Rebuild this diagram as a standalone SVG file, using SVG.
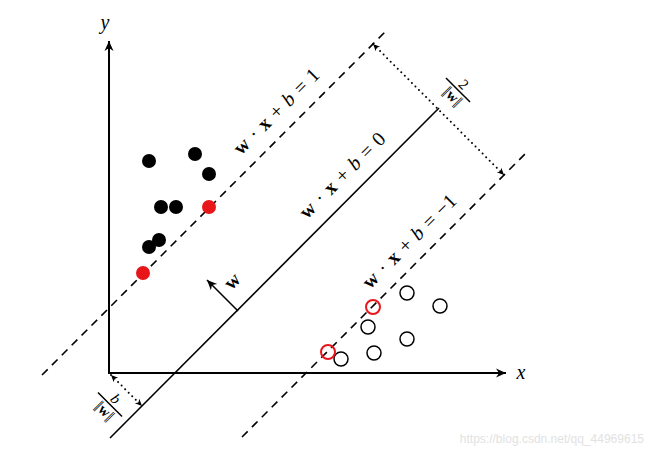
<svg xmlns="http://www.w3.org/2000/svg" width="650" height="452" viewBox="0 0 650 452">
<style>
.ax{stroke:#000;stroke-width:2;fill:none}
.sol{stroke:#000;stroke-width:1.6;fill:none}
.dash{stroke:#000;stroke-width:1.6;fill:none;stroke-dasharray:8 6}
.dot{stroke:#000;stroke-width:2;fill:none;stroke-dasharray:0 5;stroke-linecap:round}
.lbl{font-family:"Liberation Serif","DejaVu Serif",serif;font-size:20px;fill:#000;word-spacing:1.5px}
.frac{font-family:"Liberation Serif","DejaVu Serif",serif;font-size:15px;fill:#000}
.bar{letter-spacing:-1.5px;font-weight:normal}
.pos{fill:#000}
.posr{fill:#e8151b}
.neg{fill:none;stroke:#000;stroke-width:1.5}
.negr{fill:none;stroke:#e8151b;stroke-width:2}
</style>
<defs>
<marker id="ah" markerUnits="userSpaceOnUse" markerWidth="14" markerHeight="12" viewBox="-11 -6 12 12" refX="0" refY="0" orient="auto">
<path d="M0,0 L-10,-4.5 L-7,0 L-10,4.5 Z" fill="#000"/>
</marker>
<marker id="sh" markerUnits="userSpaceOnUse" markerWidth="10" markerHeight="10" viewBox="-8 -5 9 10" refX="0" refY="0" orient="auto">
<path d="M0,0 L-7,-3.2 L-5,0 L-7,3.2 Z" fill="#000"/>
</marker>
<marker id="shs" markerUnits="userSpaceOnUse" markerWidth="10" markerHeight="10" viewBox="-8 -5 9 10" refX="0" refY="0" orient="auto-start-reverse">
<path d="M0,0 L-7,-3.2 L-5,0 L-7,3.2 Z" fill="#000"/>
</marker>
</defs>

<g id="axes">
<line class="ax" x1="109" y1="373" x2="109" y2="41" marker-end="url(#ah)"/>
<line class="ax" x1="108" y1="373" x2="506" y2="373" marker-end="url(#ah)"/>
<text class="lbl" x="105" y="29" text-anchor="middle" font-style="italic" font-size="20">y</text>
<text class="lbl" x="521" y="379" text-anchor="middle" font-style="italic" font-size="20">x</text>
</g>

<g id="connectors">
<line id="hyperplane" class="sol" x1="110" y1="438" x2="439" y2="108"/>
<line id="margin-pos" class="dash" x1="42" y1="375" x2="385" y2="32"/>
<line id="margin-neg" class="dash" x1="242" y1="437" x2="528" y2="151"/>
<line id="w-vector" class="sol" x1="238" y1="311" x2="207" y2="280" marker-end="url(#ah)"/>
<line id="margin-width" class="dot" x1="373" y1="44" x2="504" y2="175" marker-start="url(#shs)" marker-end="url(#sh)"/>
<line id="offset" class="dot" x1="111" y1="375" x2="142" y2="406" marker-start="url(#shs)" marker-end="url(#sh)"/>
</g>

<g id="labels">
<text class="lbl" transform="translate(276,111) rotate(-45)" y="7" text-anchor="middle"><tspan font-weight="bold">w</tspan> · <tspan font-weight="bold">x</tspan> + <tspan font-style="italic">b</tspan> = 1</text>
<text class="lbl" transform="translate(342,175) rotate(-45)" y="7" text-anchor="middle"><tspan font-weight="bold">w</tspan> · <tspan font-weight="bold">x</tspan> + <tspan font-style="italic">b</tspan> = 0</text>
<text class="lbl" transform="translate(409,241) rotate(-45)" y="7" text-anchor="middle"><tspan font-weight="bold">w</tspan> · <tspan font-weight="bold">x</tspan> + <tspan font-style="italic">b</tspan> = −1</text>
<text class="lbl" transform="translate(233,282) rotate(-45)" y="5" text-anchor="middle" font-weight="bold" font-size="18">w</text>
<g id="frac-margin" transform="translate(458,90) rotate(45)">
<line x1="-17" y1="0" x2="17" y2="0" stroke="#000" stroke-width="1.5"/>
<text class="frac" x="0" y="-3" text-anchor="middle">2</text>
<text class="frac" x="0" y="13" text-anchor="middle"><tspan class="bar">||</tspan><tspan font-weight="bold" dx="1.5">w</tspan><tspan class="bar" dx="0.5">||</tspan></text>
</g>
<g id="frac-offset" transform="translate(110,404.5) rotate(45)">
<line x1="-17" y1="0" x2="17" y2="0" stroke="#000" stroke-width="1.5"/>
<text class="frac" x="0" y="-3" text-anchor="middle" font-style="italic">b</text>
<text class="frac" x="0" y="13" text-anchor="middle"><tspan class="bar">||</tspan><tspan font-weight="bold" dx="1.5">w</tspan><tspan class="bar" dx="0.5">||</tspan></text>
</g>
</g>

<g id="positive">
<circle class="pos" cx="149" cy="161" r="7"/>
<circle class="pos" cx="195" cy="154" r="7"/>
<circle class="pos" cx="209" cy="174" r="7"/>
<circle class="pos" cx="161" cy="207" r="7"/>
<circle class="pos" cx="176" cy="207" r="7"/>
<circle class="pos" cx="159" cy="240" r="7"/>
<circle class="pos" cx="149" cy="247" r="7"/>
<circle class="posr" cx="209" cy="207" r="7"/>
<circle class="posr" cx="143" cy="273" r="7"/>
</g>

<g id="negative">
<circle class="neg" cx="407" cy="293" r="7"/>
<circle class="neg" cx="440" cy="306" r="7"/>
<circle class="neg" cx="368" cy="327" r="7"/>
<circle class="neg" cx="407" cy="339" r="7"/>
<circle class="neg" cx="374" cy="353" r="7"/>
<circle class="neg" cx="341" cy="359" r="7"/>
<circle class="negr" cx="373" cy="307" r="7"/>
<circle class="negr" cx="328" cy="352" r="7"/>
</g>

<text id="watermark" x="644" y="443" text-anchor="end" font-family="'Liberation Sans',Arial,sans-serif" font-size="12" fill="#e2e2e2">https://blog.csdn.net/qq_44969615</text>
</svg>
